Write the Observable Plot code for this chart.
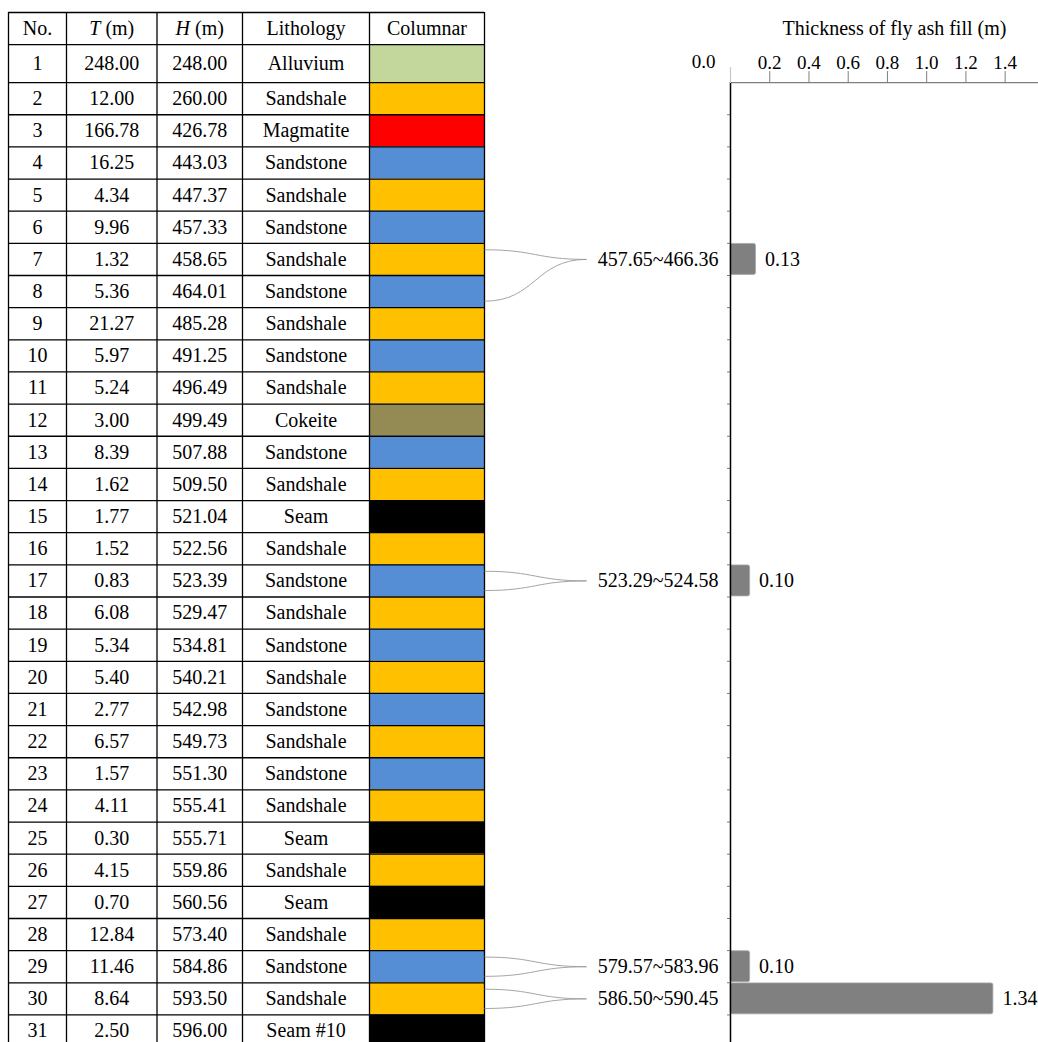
<!DOCTYPE html>
<html>
<head>
<meta charset="utf-8">
<script src="https://cdn.jsdelivr.net/npm/d3@7"></script>
<script src="https://cdn.jsdelivr.net/npm/@observablehq/plot@0.6"></script>
<style>
  body { margin: 0; background: #fff; }
  #wrap { position: relative; width: 1038px; height: 1042px; overflow: hidden; display: flex; background: #fff; }
  #wrap svg { flex: none; overflow: hidden; }
</style>
</head>
<body>
<div id="wrap"></div>
<script>
// ---------------- data ----------------
const layerNo = d3.range(1, 32);
const thickness = [248.00, 12.00, 166.78, 16.25, 4.34, 9.96, 1.32, 5.36, 21.27, 5.97, 5.24, 3.00, 8.39, 1.62, 1.77, 1.52, 0.83, 6.08, 5.34, 5.40, 2.77, 6.57, 1.57, 4.11, 0.30, 4.15, 0.70, 12.84, 11.46, 8.64, 2.50];
const depth = [248.00, 260.00, 426.78, 443.03, 447.37, 457.33, 458.65, 464.01, 485.28, 491.25, 496.49, 499.49, 507.88, 509.50, 521.04, 522.56, 523.39, 529.47, 534.81, 540.21, 542.98, 549.73, 551.30, 555.41, 555.71, 559.86, 560.56, 573.40, 584.86, 593.50, 596.00];
const lithology = ["Alluvium", "Sandshale", "Magmatite", "Sandstone", "Sandshale", "Sandstone", "Sandshale", "Sandstone", "Sandshale", "Sandstone", "Sandshale", "Cokeite", "Sandstone", "Sandshale", "Seam", "Sandshale", "Sandstone", "Sandshale", "Sandstone", "Sandshale", "Sandstone", "Sandshale", "Sandstone", "Sandshale", "Seam", "Sandshale", "Seam", "Sandshale", "Sandstone", "Sandshale", "Seam #10"];
const headers = ["No.", "T (m)", "H (m)", "Lithology", "Columnar"];
const lithoNames = ["Alluvium", "Sandshale", "Magmatite", "Sandstone", "Cokeite", "Seam", "Seam #10"];
const lithoColors = ["#c3d69b", "#ffc000", "#ff0000", "#558ed5", "#948a54", "#000000", "#000000"];
const fillRanges = ["457.65~466.36", "523.29~524.58", "579.57~583.96", "586.50~590.45"];
const fillLayer = [7, 17, 29, 30];
const fillThickness = [0.13, 0.10, 0.10, 1.34];
const fillSpanLayers = [[7, 8], [17, 17], [29, 29], [30, 30]];
const xTicks = [0.2, 0.4, 0.6, 0.8, 1.0, 1.2, 1.4];
const axisTitle = "Thickness of fly ash fill (m)";

// ---------------- layout ----------------
const FONT = "'Liberation Serif', 'Times New Roman', serif";
const tableTop = 12, rowH = 32.15, tableLeft = 8;
const colWidths = [58, 90.5, 85.5, 127, 115];
const firstRowExtra = 0.18;      // row 1 is a bit taller
const leaderLen = 102, leaderInset = 0.2;
const tableSvgW = 590, chartSvgW = 1038 - tableSvgW, chartLeftMargin = 140;

const colEdges = Array.from(d3.cumsum([0, ...colWidths]));
const tableW = colEdges[colEdges.length - 1];
const colMid = c => (colEdges[c] + colEdges[c + 1]) / 2;
const rowTop = r => r === 0 ? 0 : r === 1 ? 1 : r + firstRowExtra;
const rowBottom = r => r === 0 ? 1 : r === 1 ? 2 + firstRowExtra : rowTop(r) + 1;
const rowMid = r => (rowTop(r) + rowBottom(r)) / 2;
const yTotal = rowBottom(31);
const yRange = [tableTop, tableTop + yTotal * rowH];
const yScale = {type: "linear", domain: [0, yTotal], range: yRange, axis: null};

const rows = layerNo.map((no, i) => ({no, t: thickness[i], h: depth[i], lith: lithology[i]}));
const cells = [
  ...headers.map((text, c) => ({r: 0, c, text})),
  ...rows.flatMap(d => [
    {r: d.no, c: 0, text: String(d.no)},
    {r: d.no, c: 1, text: d.t.toFixed(2)},
    {r: d.no, c: 2, text: d.h.toFixed(2)},
    {r: d.no, c: 3, text: d.lith}
  ])
];
const fills = fillLayer.map((layer, i) => ({layer, range: fillRanges[i], value: fillThickness[i], span: fillSpanLayers[i]}));
const leaders = fills.flatMap(d => [
  {ya: rowTop(d.span[0]) + leaderInset, yb: rowMid(d.layer)},
  {ya: rowBottom(d.span[1]) - leaderInset, yb: rowMid(d.layer)}
]);
const hLines = [...d3.range(0, 32).map(rowTop), rowBottom(31)];

// ---------------- table ----------------
const table = Plot.plot({
  width: tableSvgW, height: 1042,
  margin: 0,
  style: {fontFamily: FONT, fontSize: "20px", background: "transparent", color: "black"},
  x: {type: "linear", domain: [0, tableW], range: [tableLeft, tableLeft + tableW], axis: null},
  y: yScale,
  color: {domain: lithoNames, range: lithoColors},
  marks: [
    Plot.rect(rows, {x1: () => colEdges[4], x2: () => colEdges[5], y1: d => rowTop(d.no), y2: d => rowBottom(d.no), fill: "lith"}),
    Plot.ruleY(hLines, {y: d => d, x1: () => 0, x2: () => tableW, stroke: "black", strokeWidth: 1.3}),
    Plot.ruleX(colEdges, {x: d => d, y1: () => 0, y2: () => yTotal, stroke: "black", strokeWidth: 1.3}),
    Plot.text(cells, {x: d => colMid(d.c), y: d => rowMid(d.r), text: "text", fill: "black", fontSize: 20}),
    Plot.link(leaders, {x1: () => tableW, x2: () => tableW + leaderLen, y1: "ya", y2: "yb", curve: "bump-x", stroke: "#9a9a9a", strokeWidth: 0.9})
  ]
});
table.querySelectorAll("text").forEach(t => {
  const s = t.textContent;
  if (s === "T (m)" || s === "H (m)") {
    t.innerHTML = `<tspan font-style="italic">${s[0]}</tspan>${s.slice(1)}`;
  }
});

// ---------------- chart ----------------
const chart = Plot.plot({
  width: chartSvgW, height: 1042,
  marginLeft: chartLeftMargin, marginRight: 0, marginBottom: 0,
  marginTop: tableTop + rowTop(2) * rowH,
  style: {fontFamily: FONT, fontSize: "20px", background: "transparent", color: "black"},
  x: {domain: [0, 1.57], axis: null, label: null},
  y: yScale,
  marks: [
    Plot.rect(fills, {x1: () => 0, x2: "value", y1: d => rowTop(d.layer), y2: d => rowBottom(d.layer), fill: "#808080", stroke: "#a6a6a6", strokeWidth: 0.8, rx: 2, insetTop: 0.6, insetBottom: 0.6}),
    Plot.text(fills, {x: "value", y: d => rowMid(d.layer), text: d => d.value.toFixed(2), textAnchor: "start", dx: 9, fill: "black", fontSize: 20}),
    Plot.text(fills, {x: () => 0, y: d => rowMid(d.layer), text: "range", textAnchor: "end", dx: -12, fill: "black", fontSize: 20}),
    Plot.axisY(hLines.slice(3), {anchor: "left", tickSize: 3, tickFormat: () => "", stroke: "#7f7f7f", label: null}),
    Plot.ruleY([rowTop(2)], {y: d => d, stroke: "#7f7f7f", strokeWidth: 1.3}),
    Plot.ruleX([0], {x: d => d, y1: () => rowTop(2), y2: () => yTotal, stroke: "black", strokeWidth: 1.5}),
    Plot.axisX([0], {anchor: "top", tickSize: 16, tickFormat: () => "", stroke: "#c8c8c8", strokeWidth: 1.2, label: null}),
    Plot.axisX(xTicks, {anchor: "top", tickSize: 12, tickPadding: 2, tickFormat: d3.format(".1f"), stroke: "#7f7f7f", fill: "black", fontSize: 19, label: null}),
    Plot.text([0], {x: d => d, frameAnchor: "top", text: d3.format(".1f"), lineAnchor: "bottom", dx: -27, dy: -15, fill: "black", fontSize: 19}),
    Plot.text([axisTitle], {frameAnchor: "top", text: d => d, lineAnchor: "middle", dx: 10, dy: -54, fill: "black", fontSize: 20})
  ]
});

const wrap = document.getElementById("wrap");
wrap.appendChild(table);
wrap.appendChild(chart);
</script>
</body>
</html>
